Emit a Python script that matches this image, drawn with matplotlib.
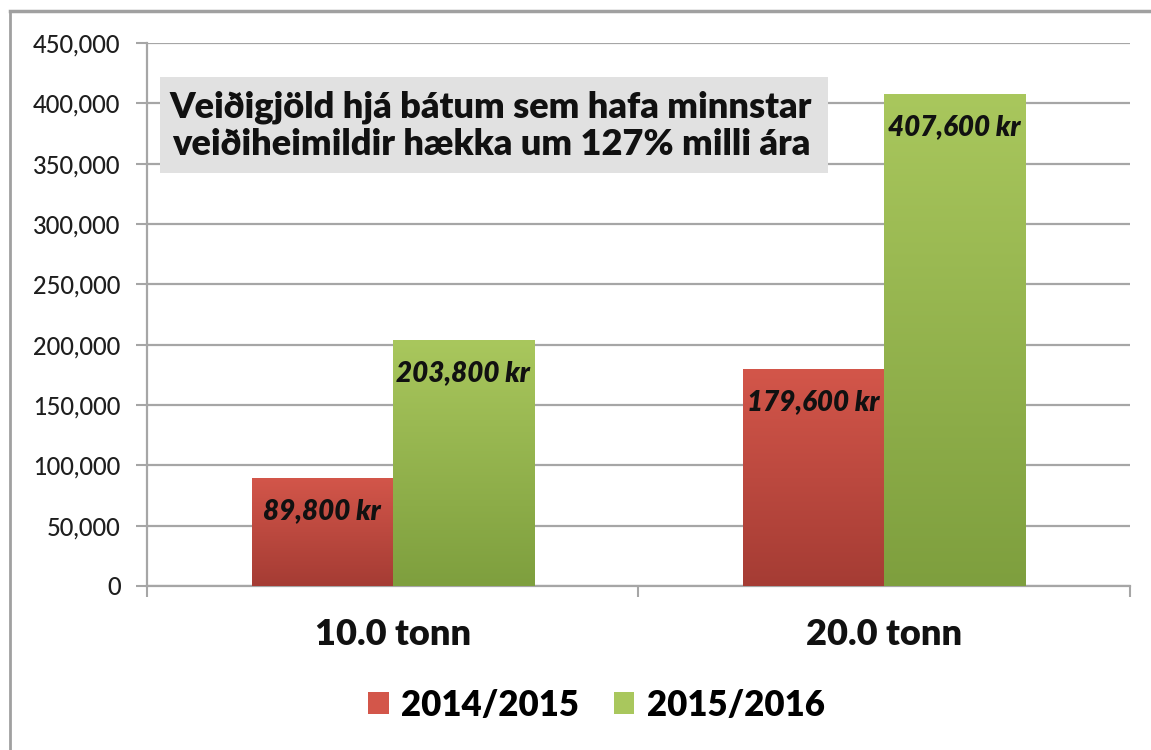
import matplotlib
matplotlib.use("Agg")
import matplotlib.pyplot as plt
import numpy as np
from matplotlib.colors import LinearSegmentedColormap
from matplotlib.lines import Line2D
from matplotlib.patches import Rectangle, Patch
from matplotlib.ticker import FuncFormatter

categories = ["10.0 tonn", "20.0 tonn"]
series_names = ["2014/2015", "2015/2016"]
values_2014 = [89800, 179600]
values_2015 = [203800, 407600]
bar_labels_2014 = ["89,800 kr", "179,600 kr"]
bar_labels_2015 = ["203,800 kr", "407,600 kr"]
note_text = "Veiðigjöld hjá bátum sem hafa minnstar\nveiðiheimildir hækka um 127% milli ára"

# top/bottom colours of the gradient fills
red_top, red_bottom = "#D3564A", "#A53C34"
green_top, green_bottom = "#A9C75D", "#7E9F3E"
grid_col = "#A6A6A6"
heavy = "heavy"

plt.rcParams["font.family"] = ["Lato", "DejaVu Sans"]

fig = plt.figure(figsize=(11.51, 7.5), dpi=100)
ax = fig.add_axes([0.1277, 0.2187, 0.854, 0.724])

x = np.arange(len(categories))
width = 0.287


def gradient_bars(xpos, heights, top, bottom):
    bars = ax.bar(xpos, heights, width, color="none", edgecolor="none", zorder=3)
    cmap = LinearSegmentedColormap.from_list("g", [bottom, top])
    grad = np.linspace(0, 1, 256).reshape(-1, 1)
    for b in bars:
        x0, w, h = b.get_x(), b.get_width(), b.get_height()
        im = ax.imshow(grad, extent=[x0, x0 + w, 0, h], origin="lower",
                       aspect="auto", cmap=cmap, zorder=3)
        im.set_clip_path(b)
    return bars


bars_a = gradient_bars(x - width / 2, values_2014, red_top, red_bottom)
bars_b = gradient_bars(x + width / 2, values_2015, green_top, green_bottom)

for bars, labels in [(bars_a, bar_labels_2014), (bars_b, bar_labels_2015)]:
    for b, lab in zip(bars, labels):
        ax.annotate(lab, (b.get_x() + b.get_width() / 2, b.get_height()),
                    xytext=(0, -24), textcoords="offset points",
                    ha="center", va="center", fontsize=20,
                    fontweight=heavy, fontstyle="italic", color="#111111", zorder=5)

ax.set_xlim(-0.5, 1.5)
ax.set_ylim(0, 450000)
ax.set_yticks(np.arange(0, 450001, 50000))
ax.yaxis.set_major_formatter(FuncFormatter(lambda v, p: f"{int(v):,}"))
ax.tick_params(axis="y", length=8, width=1.5, color=grid_col, labelsize=17,
               labelcolor="#1E1E1E", pad=11)
for t in ax.get_yticklabels():
    t.set_fontweight("medium")
ax.grid(axis="y", color=grid_col, linewidth=1.6, zorder=0)
ax.set_axisbelow(True)

ax.set_xticks(x)
ax.set_xticklabels(categories, fontsize=26, fontweight=heavy, color="#111111")
ax.set_xticks([-0.5, 0.5, 1.5], minor=True)
ax.tick_params(axis="x", which="major", length=0, pad=23)
ax.tick_params(axis="x", which="minor", length=8, width=1.5, color=grid_col)

for s in ["top", "right"]:
    ax.spines[s].set_visible(False)
for s in ["left", "bottom"]:
    ax.spines[s].set_color(grid_col)
    ax.spines[s].set_linewidth(1.6)

# grey note box
ax.add_patch(Rectangle((0.0132, 0.7606), 0.6796, 0.1768, transform=ax.transAxes,
                       facecolor="#E1E1E1", edgecolor="none", zorder=4))
ax.text(0.35, 0.847, note_text, transform=ax.transAxes, ha="center", va="center",
        fontsize=26, fontweight=heavy, color="#111111", linespacing=1.15, zorder=5)

handles = [Patch(facecolor=red_top, edgecolor="none"),
           Patch(facecolor=green_top, edgecolor="none")]
fig.legend(handles, series_names, loc="center", bbox_to_anchor=(0.518, 0.06),
           ncol=2, frameon=False, prop={"size": 25, "weight": heavy},
           handlelength=0.6, handleheight=0.6, handletextpad=0.35, columnspacing=1.0)

# outer chart frame (cut off at right and bottom)
fig.add_artist(Line2D([10 / 1151, 10 / 1151], [0, 1 - 11 / 750], color="#A0A0A0", lw=2))
fig.add_artist(Line2D([10 / 1151, 1], [1 - 11 / 750, 1 - 11 / 750], color="#A0A0A0", lw=2.5))

fig.savefig("out.png", dpi=100)
